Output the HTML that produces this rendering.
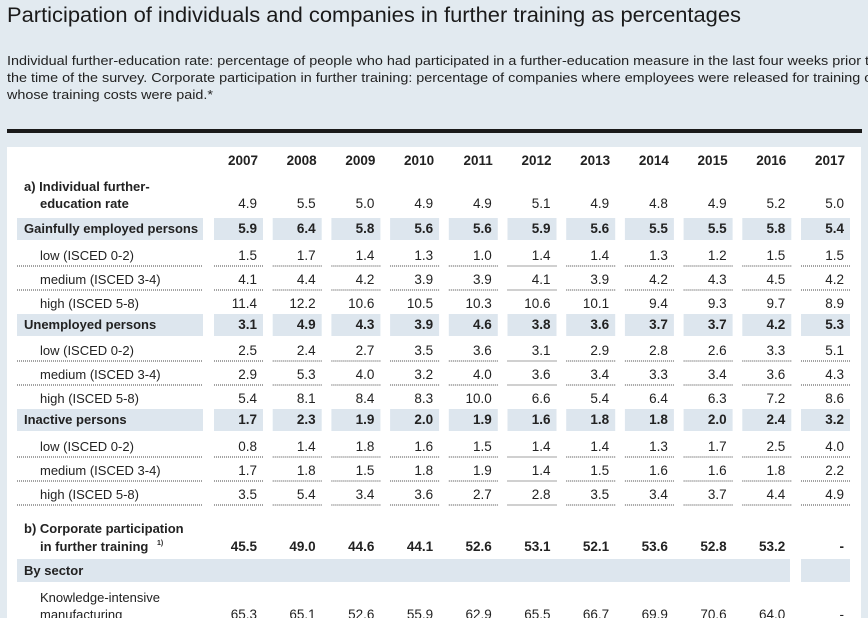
<!DOCTYPE html>
<html><head><meta charset="utf-8"><style>
html,body{margin:0;padding:0;background:#e2eaf0;}
svg{display:block;font-family:"Liberation Sans",sans-serif;}
</style></head><body>
<svg id="s" width="868" height="618" xmlns="http://www.w3.org/2000/svg">
<rect width="868" height="618" fill="#e2eaf0"/>
<text x="7" y="22" font-size="21" fill="#1a1a1a" textLength="734" lengthAdjust="spacingAndGlyphs">Participation of individuals and companies in further training as percentages</text>
<g font-size="12.5" fill="#222">
<text x="7" y="65" textLength="870" lengthAdjust="spacingAndGlyphs">Individual further-education rate: percentage of people who had participated in a further-education measure in the last four weeks prior to</text>
<text x="7" y="82" textLength="870" lengthAdjust="spacingAndGlyphs">the time of the survey. Corporate participation in further training: percentage of companies where employees were released for training or</text>
<text x="7" y="99" textLength="206" lengthAdjust="spacingAndGlyphs">whose training costs were paid.*</text>
</g>
<rect x="7" y="129" width="855" height="4" fill="#1a1a1a"/>
<rect x="7" y="147" width="854" height="471" fill="#ffffff"/>
<g id="t" font-size="13" fill="#222"></g>
</svg>
<script>
var g=document.getElementById('t'),NS='http://www.w3.org/2000/svg';
function el(n,a,txt){var e=document.createElementNS(NS,n);for(var k in a)e.setAttribute(k,a[k]);if(txt!=null)e.textContent=txt;g.appendChild(e);return e;}
function cx(i){return 214+i*58.7;}
var years=['2007','2008','2009','2010','2011','2012','2013','2014','2015','2016','2017'];
years.forEach(function(y,i){el('text',{x:cx(i)+44,y:165,'text-anchor':'end','font-weight':'bold','font-size':'13.5'},y);});
function dots(y){el('line',{x1:17,x2:203,y1:y,y2:y,stroke:'#444','stroke-width':1,'stroke-dasharray':'1 1'});
 for(var i=0;i<11;i++)el('line',{x1:cx(i),x2:cx(i)+49,y1:y,y2:y,stroke:'#444','stroke-width':1,'stroke-dasharray':'1 1'});}
function vals(v,y,b){v.forEach(function(s,i){el('text',{x:cx(i)+43,y:y,'text-anchor':'end','font-weight':b?'bold':'normal','font-size':'13.5'},s);});}
function band(y,label,v){el('rect',{x:17,y:y,width:186,height:22,fill:'#dde6ee'});
 for(var i=0;i<11;i++)el('rect',{x:cx(i),y:y,width:49,height:22,fill:'#dde6ee'});
 el('text',{x:24,y:y+15,'font-weight':'bold'},label);vals(v,y+15,true);}
function sub(y,label,v,d){el('text',{x:40,y:y},label);vals(v,y,false);if(d!==false)dots(y+6);}
el('text',{x:24,y:191,'font-weight':'bold'},'a) Individual further-');
el('text',{x:40,y:208,'font-weight':'bold'},'education rate');
vals('4.9 5.5 5.0 4.9 4.9 5.1 4.9 4.8 4.9 5.2 5.0'.split(' '),208,false);
band(218,'Gainfully employed persons','5.9 6.4 5.8 5.6 5.6 5.9 5.6 5.5 5.5 5.8 5.4'.split(' '));
sub(260,'low (ISCED 0-2)','1.5 1.7 1.4 1.3 1.0 1.4 1.4 1.3 1.2 1.5 1.5'.split(' '));
sub(284,'medium (ISCED 3-4)','4.1 4.4 4.2 3.9 3.9 4.1 3.9 4.2 4.3 4.5 4.2'.split(' '));
sub(308,'high (ISCED 5-8)','11.4 12.2 10.6 10.5 10.3 10.6 10.1 9.4 9.3 9.7 8.9'.split(' '),false);
band(314,'Unemployed persons','3.1 4.9 4.3 3.9 4.6 3.8 3.6 3.7 3.7 4.2 5.3'.split(' '));
sub(355,'low (ISCED 0-2)','2.5 2.4 2.7 3.5 3.6 3.1 2.9 2.8 2.6 3.3 5.1'.split(' '));
sub(379,'medium (ISCED 3-4)','2.9 5.3 4.0 3.2 4.0 3.6 3.4 3.3 3.4 3.6 4.3'.split(' '));
sub(403,'high (ISCED 5-8)','5.4 8.1 8.4 8.3 10.0 6.6 5.4 6.4 6.3 7.2 8.6'.split(' '),false);
band(409,'Inactive persons','1.7 2.3 1.9 2.0 1.9 1.6 1.8 1.8 2.0 2.4 3.2'.split(' '));
sub(451,'low (ISCED 0-2)','0.8 1.4 1.8 1.6 1.5 1.4 1.4 1.3 1.7 2.5 4.0'.split(' '));
sub(475,'medium (ISCED 3-4)','1.7 1.8 1.5 1.8 1.9 1.4 1.5 1.6 1.6 1.8 2.2'.split(' '));
sub(499,'high (ISCED 5-8)','3.5 5.4 3.4 3.6 2.7 2.8 3.5 3.4 3.7 4.4 4.9'.split(' '));
el('text',{x:24,y:533,'font-weight':'bold'},'b) Corporate participation');
el('text',{x:40,y:551,'font-weight':'bold'},'in further training');
el('text',{x:157,y:545,'font-size':'7','font-weight':'bold'},'1)');
vals('45.5 49.0 44.6 44.1 52.6 53.1 52.1 53.6 52.8 53.2 -'.split(' '),551,true);
el('rect',{x:17,y:559,width:773,height:23,fill:'#dde6ee'});
el('rect',{x:cx(10),y:559,width:49,height:23,fill:'#dde6ee'});
el('text',{x:24,y:575,'font-weight':'bold'},'By sector');
el('text',{x:40,y:602},'Knowledge-intensive');
el('text',{x:40,y:619},'manufacturing');
vals('65.3 65.1 52.6 55.9 62.9 65.5 66.7 69.9 70.6 64.0 -'.split(' '),619,false);
</script>
</body></html>
